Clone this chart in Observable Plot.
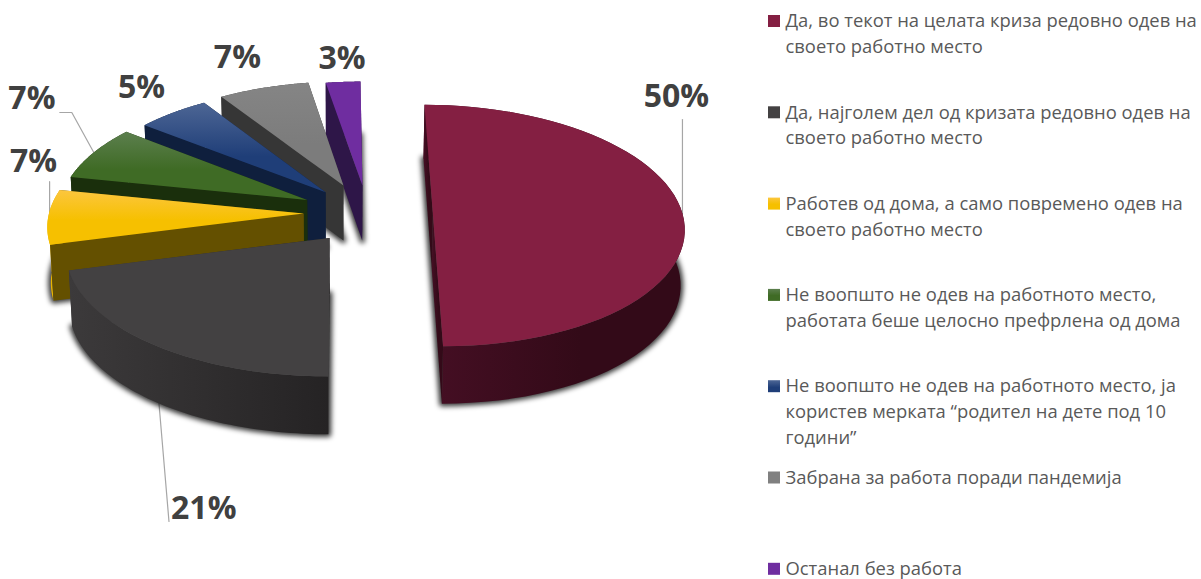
<!DOCTYPE html>
<html>
<head>
<meta charset="utf-8">
<style>html,body{margin:0;padding:0;background:#fff}svg{display:block}</style>
<script src="https://cdn.jsdelivr.net/npm/d3@7"></script>
<script src="https://cdn.jsdelivr.net/npm/@observablehq/plot@0.6"></script>
</head>
<body>
<script>
// ---- data ----
const categories = [
  "Да, во текот на целата криза редовно одев на\nсвоето работно место",
  "Да, најголем дел од кризата редовно одев на\nсвоето работно место",
  "Работев од дома, а само повремено одев на\nсвоето работно место",
  "Не воопшто не одев на работното место,\nработата беше целосно префрлена од дома",
  "Не воопшто не одев на работното место, ја\nкористев мерката “родител на дете под 10\nгодини”",
  "Забрана за работа поради пандемија",
  "Останал без работа"
];
const shares = [50, 20.9, 7.3, 7.4, 5.3, 6.6, 2.5];

// ---- styles ----
const topFill  = ["#841f42", "#434142", "url(#gYellow)", "url(#gGreen)", "url(#gBlue)", "url(#gGrey)", "#6f2da0"];
const wallFill = ["url(#wMaroon)", "url(#wDark)", "#645000", "#1a2f0c", "#0f1f3d", "#363636", "#2e1648"];
const rimFill  = ["url(#wMaroon)", "url(#wDark)", "#e8b400", "#1a2f0c", "#0f1f3d", "#363636", "#2e1648"];
const gradients = [
  ["gYellow", "#fcc63e", "#f6c000", 0.55, false],
  ["gGreen",  "#5c7f4e", "#3f6b25", 0.55, false],
  ["gBlue",   "#4d6695", "#1f3e78", 0.6, false],
  ["gGrey",   "#858585", "#7c7c7c", 0.6, false],
  ["wMaroon", "#460f24", "#330a18", 0.6, true],
  ["wDark",   "#3c3a3b", "#252324", 1, true]
];

// ---- layout: a perspective view of the pie's plane ----
const horizon = -987, vanishX = 340, xk = 0.208, a0 = 1 / 1200, bk = 0.000083, radius = 1;
const depthBase = 55, depthSlope = 0.015, depthShrink = 0.012;
const explode = [[.37, 0], [-.043, -.2], [-.148, 0], [-.135, .115], [-.061, .18], [.012, .24], [.09, .24]];
const widen = [1, 1.03, 1.02, 1, 1, 1, 1];
const paintOrder = [6, 5, 4, 3, 2, 1, 0];
const project = (X, Z, d = 0) => {
  const W = 1 / (a0 + bk * Z);
  const x = X * xk * W * (1 - d * depthShrink);
  return [vanishX + x, W + horizon + d * (depthBase + (W - 1170) * depthSlope)];
};
const arcs = d3.pie().sort(null)(shares);
const onPie = (i, theta, d = 0, r = radius) =>
  project(explode[i][0] + widen[i] * r * Math.sin(theta), explode[i][1] + r * Math.cos(theta), d);
const apex = (i, d = 0) => project(explode[i][0], explode[i][1], d);

function ring(i, d = 0) {
  const {startAngle: a, endAngle: b} = arcs[i];
  return d3.range(0, 61).map((k) => onPie(i, a + (b - a) * k / 60, d));
}
const rows = (pts, part, fill) => pts.map(([x, y]) => ({x, y, part, fill}));

function faces(i) {
  const {startAngle: a, endAngle: b} = arcs[i];
  const radial = (t) => [apex(i), onPie(i, t), onPie(i, t, 1), apex(i, 1)];
  const t = ring(i), l = ring(i, 1);
  return [
    ...rows([...t, ...l.slice().reverse()], `${i}-rim`, rimFill[i]),
    ...rows(radial(b), `${i}-back`, wallFill[i]),
    ...rows(radial(a), `${i}-front`, wallFill[i]),
    ...rows([apex(i), ...t], `${i}-top`, topFill[i])
  ];
}
const shadow = (i) => rows([apex(i, 1), ...ring(i, 1)], `${i}-shadow`, "#000");

const polygon = (data) => Plot.line(data, {
  x: "x", y: "y", z: "part", fill: "fill", stroke: "none", curve: "linear-closed"
});

// ---- percent labels and their leaders ----
const pct = shares.map((v) => `${Math.round(v)}%`);
const labelTheta = [90, 217, 268, 290, 318, 338, 356];
const labelShift = [[-6, -117], [47, 163], [-14.5, -56], [-52, -63], [-32, -25], [-22, -31], [-3, -23]];
const labels = pct.map((text, i) => {
  const [x, y] = onPie(i, labelTheta[i] * Math.PI / 180);
  return {text, x: x + labelShift[i][0], y: y + labelShift[i][1]};
});
const leaders = [
  [0, 90, 0, [[0, 0], [0, -94]]],
  [1, 217, 1, [[0, 0], [10, 118]]],
  [2, 268, 0, [[1.5, 0], [1.5, -36]]],
  [3, 295, 0, [[0, 0], [-22, -40], [-34, -40]]]
];
const leaderRows = leaders.flatMap(([i, th, d, offs], n) => {
  const [x0, y0] = onPie(i, th * Math.PI / 180, d);
  return offs.map(([dx, dy]) => ({x: x0 + dx, y: y0 + dy, n}));
});

// ---- legend ----
const legendX = 768, legendTop = 21, legendStep = 91.3, swatch = 12, textGap = 17;
const swatchFill = ["#841f42", "#434142", "url(#gYellow)", "url(#gGreen)", "url(#gBlue)", "#808080", "#6f2da0"];
const legend = categories.map((text, i) => ({text, y: legendTop + i * legendStep, fill: swatchFill[i]}));

const defs = () => {
  const d = d3.create("svg:defs");
  for (const [id, c0, c1, stop, horizontal] of gradients) {
    const g = d.append("linearGradient").attr("id", id)
      .attr("x1", 0).attr("y1", 0).attr("x2", horizontal ? 1 : 0).attr("y2", horizontal ? 0 : 1);
    g.append("stop").attr("offset", 0).attr("stop-color", c0);
    g.append("stop").attr("offset", stop).attr("stop-color", c1);
  }
  return d.node();
};

const chart = Plot.plot({
  width: 1201, height: 579,
  margin: 0,
  x: {domain: [0, 1201], range: [0, 1201], axis: null},
  y: {domain: [0, 579], range: [0, 579], axis: null},
  color: {type: "identity"},
  style: {background: "#fff"},
  marks: [
    defs,
    Plot.line(leaderRows, {x: "x", y: "y", z: "n", stroke: "#a6a6a6", strokeWidth: 1.2}),
    ...paintOrder.flatMap((i) => [
      Plot.line(shadow(i), {
        x: "x", y: "y", z: "part", fill: "#000", stroke: "#000", strokeWidth: 6, strokeOpacity: 0.65, fillOpacity: 0.65,
        curve: "linear-closed", imageFilter: "blur(2.5px)"
      }),
      polygon(faces(i))
    ]),
    Plot.text(labels, {
      x: "x", y: "y", text: "text", fontSize: 32, fontWeight: 700, fontFamily: "Open Sans", fill: "#404040"
    }),
    Plot.rect(legend, {
      x1: () => legendX, x2: () => legendX + swatch,
      y1: (d) => d.y - swatch / 2, y2: (d) => d.y + swatch / 2, fill: "fill"
    }),
    Plot.text(legend, {
      x: () => legendX + textGap, y: "y", dy: -12.5, text: "text", textAnchor: "start", lineAnchor: "top",
      lineHeight: 1.4, fontSize: 18.4, fontFamily: "Open Sans", fill: "#595959"
    })
  ]
});
document.body.appendChild(chart);
</script>
</body>
</html>
